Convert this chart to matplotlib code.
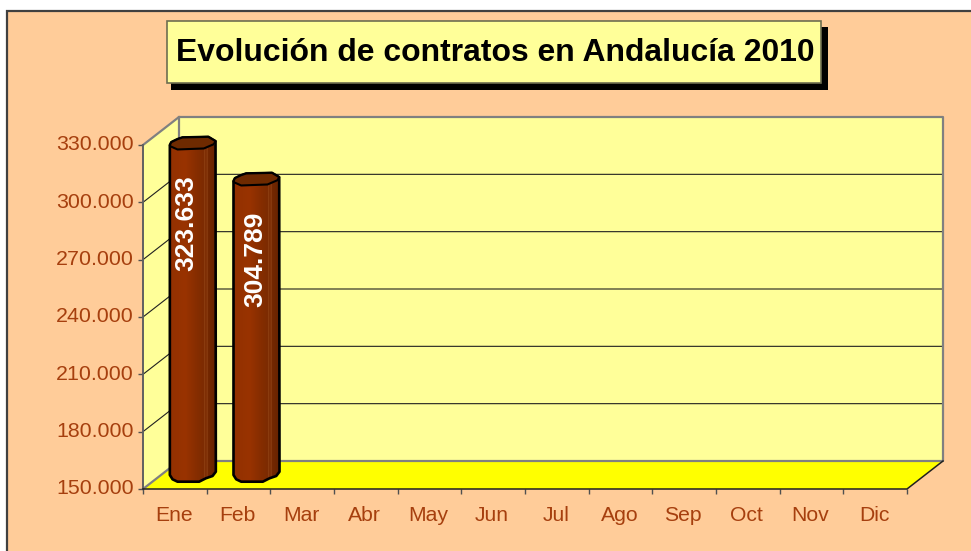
import numpy as np
import matplotlib
matplotlib.use("Agg")
import matplotlib.pyplot as plt
from matplotlib.patches import Polygon, Rectangle
from matplotlib.colors import LinearSegmentedColormap
from matplotlib.transforms import ScaledTranslation

plt.rcParams['font.family'] = ['Liberation Sans', 'DejaVu Sans']

# --- data ---
TITLE = "Evolución de contratos en Andalucía 2010"
months = ["Ene", "Feb", "Mar", "Abr", "May", "Jun", "Jul", "Ago", "Sep", "Oct", "Nov", "Dic"]
values = [323633, 304789]
value_labels = ["323.633", "304.789"]
y_ticks = [150000, 180000, 210000, 240000, 270000, 300000, 330000]
y_tick_labels = ["150.000", "180.000", "210.000", "240.000", "270.000", "300.000", "330.000"]

W, H = 971, 551
L, R, T, B = 143, 907, 145, 489
DX, DY = 36, 28
TXT = "#A63F0E"
GREY = "#808080"

fig = plt.figure(figsize=(W / 100, H / 100), dpi=100, facecolor="white")

def fx(x): return x / W
def fy(y): return 1 - y / H

# chart area
fig.add_artist(Rectangle((fx(6.5), fy(600)), fx(1100), fy(11) - fy(600), transform=fig.transFigure,
                         fc="#FFCC99", ec="#404040", lw=1.6, zorder=-5))
# title box
fig.add_artist(Rectangle((fx(171), fy(90)), fx(657), fy(27) - fy(90), transform=fig.transFigure,
                         fc="black", ec="none", zorder=5))
fig.add_artist(Rectangle((fx(167), fy(83)), fx(654), fy(21) - fy(83), transform=fig.transFigure,
                         fc="#FFFF99", ec="#6E6E50", lw=1.2, zorder=6))
fig.text(fx(495.5), fy(53), TITLE, ha="center", va="center", fontsize=22.95, fontweight="bold",
         color="black", zorder=7)

ax = fig.add_axes([fx(L), fy(B), fx(R - L), fy(T) - fy(B)])
ax.patch.set_visible(False)
for s in ax.spines.values():
    s.set_visible(False)
ymin, ymax = y_ticks[0], y_ticks[-1]
ax.set_xlim(0, len(months))
ax.set_ylim(ymin, ymax)

ux = (R - L) / len(months)          # px per category
uy = (B - T) / (ymax - ymin)        # px per value unit
ddx, ddy = DX / ux, DY / uy         # depth offset in data units
def ox(px): return px / ux
def oy(px): return px / uy

xmax = len(months)
# walls and floor
ax.add_patch(Polygon([(0, ymin), (ddx, ymin + ddy), (ddx, ymax + ddy), (0, ymax)],
                     fc="#FFFF99", ec="none", clip_on=False, zorder=1))
ax.add_patch(Polygon([(ddx, ymin + ddy), (xmax + ddx, ymin + ddy), (xmax + ddx, ymax + ddy), (ddx, ymax + ddy)],
                     fc="#FFFF99", ec="none", clip_on=False, zorder=1))
ax.add_patch(Polygon([(0, ymin), (xmax, ymin), (xmax + ddx, ymin + ddy), (ddx, ymin + ddy)],
                     fc="#FFFF00", ec="none", clip_on=False, zorder=1))
# grid
for v in y_ticks[1:-1]:
    ax.plot([0, ddx, xmax + ddx], [v, v + ddy, v + ddy], color="#202020", lw=0.8, clip_on=False, zorder=2)
# wall outlines
ax.plot([0, ddx, xmax + ddx, xmax + ddx, ddx, 0],
        [ymax, ymax + ddy, ymax + ddy, ymin + ddy, ymin + ddy, ymin],
        color=GREY, lw=1.6, clip_on=False, zorder=3)
ax.plot([ddx, ddx], [ymin + ddy, ymax + ddy], color=GREY, lw=1.6, clip_on=False, zorder=3)
ax.plot([0, 0], [ymin, ymax], color="#606060", lw=1.4, clip_on=False, zorder=3)
ax.plot([0, xmax, xmax + ddx], [ymin, ymin, ymin + ddy], color="#202020", lw=1.1, clip_on=False, zorder=3)

# ticks
ax.set_yticks(y_ticks, y_tick_labels)
ax.set_xticks(np.arange(len(months)) + 0.5, months)
ax.set_xticks(np.arange(len(months) + 1), minor=True)
ax.tick_params(axis="x", which="major", length=0, pad=12.5, labelsize=15.2, labelcolor=TXT)
ax.tick_params(axis="x", which="minor", length=3.6, width=1, color="#505050")
ax.tick_params(axis="y", which="major", length=3.8, width=1, color="#505050", pad=3,
               labelsize=15.4, labelcolor=TXT)
lift = ScaledTranslation(0, 2 / 100, fig.dpi_scale_trans)
for lab in ax.get_yticklabels():
    lab.set_transform(lab.get_transform() + lift)
shift = ScaledTranslation(-1 / 100, 0, fig.dpi_scale_trans)
for lab in ax.get_xticklabels():
    lab.set_transform(lab.get_transform() + shift)

# bars
top_cap = [(-23, 2), (-21.5, -1), (-15.3, -4), (-10.3, -5.7), (15.5, -6.3), (22.7, -2), (21, 1),
           (11, 5.3), (-15.3, 6.3), (-22.7, 3)]
bottom = [(23, -3.3), (19.7, 1), (13, 3.3), (6.3, 6.7), (-15.3, 6.7), (-20.3, 4.3), (-23, 0)]
cmap = LinearSegmentedColormap.from_list("bar", [
    (0.0, "#862D00"), (0.05, "#933100"), (0.35, "#993300"), (0.6, "#852D00"),
    (0.745, "#7C2B02"), (0.76, "#96491A"), (0.775, "#7C2B02"), (0.80, "#7C2B02"), (0.815, "#96491A"),
    (0.83, "#742800"), (1.0, "#662200")])
grad = np.linspace(0, 1, 200).reshape(1, -1)
label_dx = [-6, -1.5]

for i, (val, lab) in enumerate(zip(values, value_labels)):
    cx = i + 0.5 + ddx / 2
    ty = val + ddy / 2
    by = ymin + ddy / 2
    outline = ([(cx + ox(a), ty - oy(b)) for a, b in top_cap[:6]]
               + [(cx + ox(a), by - oy(b)) for a, b in bottom])
    poly = Polygon(outline, fc="none", ec="black", lw=1.9, clip_on=False, zorder=6, joinstyle="round")
    ax.add_patch(poly)
    im = ax.imshow(grad, cmap=cmap, vmin=0, vmax=1, aspect="auto", zorder=5,
                   extent=[cx - ox(23.5), cx + ox(23.5), by - oy(8), ty + oy(8)])
    clip = Polygon(outline, transform=ax.transData)
    im.set_clip_path(clip)
    ax.add_patch(Polygon([(cx + ox(a), ty - oy(b)) for a, b in top_cap],
                         fc="#6E2A00", ec="black", lw=1.5, clip_on=False, zorder=7, joinstyle="round"))
    ax.text(cx + ox(label_dx[i]), val - oy(66), lab,
            rotation=90, ha="center", va="center", color="white", fontsize=19, fontweight="bold", zorder=8)

ax.set_xlim(0, len(months))
ax.set_ylim(ymin, ymax)
fig.savefig("out.png", dpi=100, facecolor=fig.get_facecolor())
